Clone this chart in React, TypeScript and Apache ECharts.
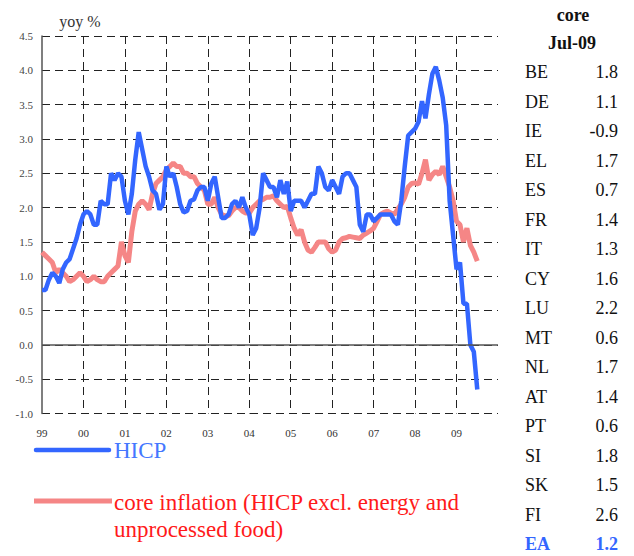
import React, { useEffect, useRef } from 'react';
import * as echarts from 'echarts';

const FONT = "'Liberation Serif', 'Times New Roman', serif";

// year tick labels (Jan of each year)
const yearLabels = ['99', '00', '01', '02', '03', '04', '05', '06', '07', '08', '09'];
const firstYear = 1999;
const axisYears = 11; // Jan-1999 .. Jan-2010

// HICP yoy %, monthly Jan-1999 .. Jul-2009
const hicp = [
  0.8, 0.8, 0.95, 1.05, 1.0, 0.9, 1.1, 1.2, 1.25, 1.4, 1.55, 1.75,
  1.9, 1.95, 1.9, 1.75, 1.75, 2.1, 2.05, 2.05, 2.5, 2.4, 2.5, 2.45,
  2.1, 1.9, 2.2, 2.7, 3.1, 2.85, 2.6, 2.45, 2.25, 2.2, 1.97, 2.05,
  2.6, 2.45, 2.5, 2.3, 2.05, 1.93, 1.95, 2.1, 2.12, 2.25, 2.3, 2.3,
  2.1, 2.35, 2.45, 2.15, 1.85, 1.85, 1.9, 2.05, 2.1, 2.0, 2.15, 2.0,
  1.9, 1.6, 1.7, 2.0, 2.5, 2.4, 2.3, 2.3, 2.15, 2.4, 2.2, 2.38,
  1.95, 2.1, 2.1, 2.1, 2.0, 2.1, 2.2, 2.2, 2.6, 2.5, 2.3, 2.25,
  2.4, 2.3, 2.2, 2.45, 2.5, 2.5, 2.4, 2.3, 1.75, 1.65, 1.9, 1.9,
  1.8, 1.85, 1.9, 1.9, 1.9, 1.9, 1.8, 1.75, 2.1, 2.6, 3.05, 3.1,
  3.15, 3.25, 3.55, 3.3, 3.65, 3.95, 4.05, 3.85, 3.6, 3.2, 2.1, 1.6,
  1.1, 1.2, 0.6, 0.6, 0.0, -0.1, -0.65,
];

// core inflation (HICP excl. energy and unprocessed food), yoy %
const core = [
  1.35, 1.3, 1.25, 1.2, 1.05, 1.1, 1.05, 1.0, 0.92, 0.95, 1.0, 1.05,
  1.0, 0.92, 0.95, 1.0, 0.95, 0.92, 0.92, 1.0, 1.05, 1.1, 1.15, 1.5,
  1.3, 1.2, 1.65, 1.95, 2.05, 2.1, 2.05, 1.97, 2.2, 2.35, 2.4, 2.45,
  2.55, 2.6, 2.65, 2.6, 2.6, 2.5, 2.5, 2.45, 2.45, 2.35, 2.3, 2.25,
  2.05, 2.05, 2.15, 2.0, 1.9, 1.88, 1.88, 1.95, 2.0, 2.0, 1.95, 1.92,
  1.92, 2.0, 2.05, 2.1, 2.12, 2.15, 2.15, 2.17, 2.1, 2.05, 2.0, 2.02,
  1.85, 1.7, 1.6, 1.68, 1.5, 1.38, 1.35, 1.42, 1.5, 1.5, 1.5, 1.4,
  1.35, 1.38, 1.5, 1.55, 1.56, 1.58, 1.57, 1.56, 1.55, 1.6, 1.63, 1.66,
  1.7, 1.8, 1.9, 1.93, 1.95, 1.92, 1.9, 1.98, 2.05, 2.15, 2.3, 2.35,
  2.36, 2.34, 2.5, 2.7, 2.4, 2.48, 2.53, 2.48, 2.6, 2.45, 2.3, 2.1,
  1.8, 1.75, 1.5, 1.7, 1.45, 1.35, 1.22,
];

// right-hand table: core inflation Jul-09 by country
const countries = ['BE', 'DE', 'IE', 'EL', 'ES', 'FR', 'IT', 'CY', 'LU', 'MT', 'NL', 'AT', 'PT', 'SI', 'SK', 'FI', 'EA'];
const coreJul09 = [1.8, 1.1, -0.9, 1.7, 0.7, 1.4, 1.3, 1.6, 2.2, 0.6, 1.7, 1.4, 0.6, 1.8, 1.5, 2.6, 1.2];

const BLUE = '#3366FF';
const PINK = '#F58686';
const RED = '#FF1A1A';

export default function App() {
  const ref = useRef<HTMLDivElement>(null);

  useEffect(() => {
    const chart = echarts.init(ref.current!, null, { renderer: 'svg' });

    const categories: string[] = [];
    for (let y = 0; y <= axisYears; y++) {
      for (let m = 0; m < 12; m++) {
        if (y === axisYears && m > 0) break;
        categories.push(`${firstYear + y}-${m + 1}`);
      }
    }

    const tableEls: any[] = [];
    tableEls.push({
      type: 'text', x: 573, y: 15,
      style: { text: 'core', font: `bold 18px ${FONT}`, fill: '#111', align: 'center', verticalAlign: 'middle' },
    });
    tableEls.push({
      type: 'text', x: 572, y: 43,
      style: { text: 'Jul-09', font: `bold 18px ${FONT}`, fill: '#111', align: 'center', verticalAlign: 'middle' },
    });
    countries.forEach((c, i) => {
      const isEA = c === 'EA';
      const y = 72 + i * 29.5;
      const fill = isEA ? '#3366FF' : '#111';
      const font = `${isEA ? 'bold ' : ''}18px ${FONT}`;
      tableEls.push({
        type: 'text', x: 525, y,
        style: { text: c, font, fill, align: 'left', verticalAlign: 'middle' },
      });
      tableEls.push({
        type: 'text', x: 618, y,
        style: { text: coreJul09[i].toFixed(1), font, fill, align: 'right', verticalAlign: 'middle' },
      });
    });

    const option: any = {
      animation: false,
      grid: { left: 42, top: 36, right: 136, bottom: 142.5, containLabel: false },
      xAxis: {
        type: 'category',
        data: categories,
        boundaryGap: false,
        axisLine: { show: false, onZero: false },
        axisTick: { show: false },
        axisLabel: {
          interval: 0,
          margin: 14,
          color: '#333',
          fontFamily: FONT,
          fontSize: 11,
          formatter: (_v: string, i: number) =>
            i % 12 === 0 && i / 12 < yearLabels.length ? yearLabels[i / 12] : '',
        },
        splitLine: {
          show: true,
          interval: (i: number) => i % 12 === 0 && i > 0 && i / 12 < yearLabels.length,
          lineStyle: { color: '#222', width: 1, type: [8, 5] },
        },
      },
      yAxis: {
        type: 'value',
        min: -1,
        max: 4.5,
        interval: 0.5,
        axisLine: { show: true, lineStyle: { color: '#555', width: 1.5 } },
        axisTick: { show: false },
        axisLabel: {
          margin: 9,
          color: '#444',
          fontFamily: FONT,
          fontSize: 11,
          formatter: (v: number) => v.toFixed(1),
        },
        splitLine: { show: true, lineStyle: { color: '#222', width: 1, type: [8, 5] } },
      },
      series: [
        {
          name: 'core inflation (HICP excl. energy and unprocessed food)',
          type: 'line',
          data: core,
          showSymbol: false,
          symbol: 'none',
          lineStyle: { color: PINK, width: 5 },
          z: 3,
          markLine: {
            silent: true,
            symbol: 'none',
            label: { show: false },
            lineStyle: { color: '#555', width: 1.5, type: 'solid' },
            data: [{ yAxis: 0 }],
          },
        },
        {
          name: 'HICP',
          type: 'line',
          data: hicp,
          showSymbol: false,
          symbol: 'none',
          lineStyle: { color: BLUE, width: 4.5 },
          z: 4,
        },
      ],
      graphic: [
        {
          type: 'text', x: 80, y: 21,
          style: { text: 'yoy %', font: `16px ${FONT}`, fill: '#333', align: 'center', verticalAlign: 'middle' },
        },
        {
          type: 'line',
          shape: { x1: 36, y1: 450, x2: 109, y2: 450 },
          style: { stroke: BLUE, lineWidth: 4.5, lineCap: 'round' },
        },
        {
          type: 'text', x: 114, y: 450,
          style: { text: 'HICP', font: `23px ${FONT}`, fill: '#4477FF', align: 'left', verticalAlign: 'middle' },
        },
        {
          type: 'line',
          shape: { x1: 34, y1: 501, x2: 112, y2: 501 },
          style: { stroke: PINK, lineWidth: 5 },
        },
        {
          type: 'text', x: 114, y: 489,
          style: {
            text: 'core inflation (HICP excl. energy and\nunprocessed food)',
            font: `23px ${FONT}`,
            lineHeight: 27,
            fill: RED,
            align: 'left',
            verticalAlign: 'top',
          },
        },
        ...tableEls,
      ],
    };

    chart.setOption(option);
    return () => chart.dispose();
  }, []);

  return (
    <div
      ref={ref}
      style={{ position: 'absolute', left: 0, top: 0, width: 634, height: 556, background: '#fff' }}
    />
  );
}
